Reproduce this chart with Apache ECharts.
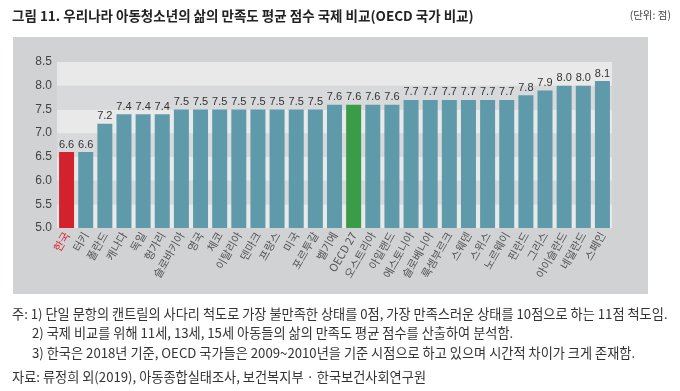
<!DOCTYPE html>
<html>
<head>
<meta charset="utf-8">
<script src="https://cdn.jsdelivr.net/npm/echarts@6/dist/echarts.min.js"></script>
<style>
html,body{margin:0;padding:0;background:#fff;}
#c{width:680px;height:391px;}
</style>
</head>
<body>
<div id="c"></div>
<script>
const categories = ['한국','터키','폴란드','캐나다','독일','헝가리','슬로바키아','영국','체코','이탈리아','덴마크','프랑스','미국','포르투갈','벨기에','OECD 27','오스트리아','아일랜드','에스토니아','슬로베니아','룩셈부르크','스웨덴','스위스','노르웨이','핀란드','그리스','아이슬란드','네덜란드','스페인'];
const values = [6.6,6.6,7.2,7.4,7.4,7.4,7.5,7.5,7.5,7.5,7.5,7.5,7.5,7.5,7.6,7.6,7.6,7.6,7.7,7.7,7.7,7.7,7.7,7.7,7.8,7.9,8.0,8.0,8.1];
const yTicks = [5.0,5.5,6.0,6.5,7.0,7.5,8.0,8.5];
const titleText = '그림 11. 우리나라 아동청소년의 삶의 만족도 평균 점수 국제 비교(OECD 국가 비교)';
const unitText = '(단위: 점)';
const notes = [
  '주: 1) 단일 문항의 캔트릴의 사다리 척도로 가장 불만족한 상태를 0점, 가장 만족스러운 상태를 10점으로 하는 11점 척도임.',
  '2) 국제 비교를 위해 11세, 13세, 15세 아동들의 삶의 만족도 평균 점수를 산출하여 분석함.',
  '3) 한국은 2018년 기준, OECD 국가들은 2009~2010년을 기준 시점으로 하고 있으며 시간적 차이가 크게 존재함.'
];
const sourceText = '자료: 류정희 외(2019), 아동종합실태조사, 보건복지부 · 한국보건사회연구원';

const highlight = {'한국':'#d3222d','OECD 27':'#3a9b48'};
const baseColor = '#5f9aab';
const F = '"Noto Sans CJK KR", "Noto Sans", sans-serif';

const chart = echarts.init(document.getElementById('c'), null, {renderer:'canvas'});
chart.setOption({
  animation:false,
  backgroundColor:'#ffffff',
  graphic:[
    {type:'rect', z:-10, shape:{x:13,y:37,width:635,height:257}, style:{fill:'#d1d2d4'}},
    {type:'text', left:12, top:9, style:{text:titleText, font:'bold 13.5px '+F, fill:'#222'}},
    {type:'text', right:9, top:10, style:{text:unitText, font:'10.5px '+F, fill:'#444'}},
    {type:'text', left:12, top:307, style:{text:notes[0], font:'13.2px '+F, fill:'#333'}},
    {type:'text', left:32, top:326, style:{text:notes[1], font:'13.2px '+F, fill:'#333'}},
    {type:'text', left:32, top:346, style:{text:notes[2], font:'13.2px '+F, fill:'#333'}},
    {type:'text', left:12, top:370, style:{text:sourceText, font:'13.2px '+F, fill:'#333'}}
  ],
  grid:{left:57, right:68, top:62, bottom:163, containLabel:false},
  xAxis:{
    type:'category', data:categories,
    axisLine:{show:false}, axisTick:{show:false},
    axisLabel:{
      rotate:60, interval:0, margin:5, fontSize:11, color:'#555', fontFamily:F,
      formatter:(v)=> v==='한국' ? '{r|'+v+'}' : v,
      rich:{r:{color:'#d3222d', fontSize:11, fontFamily:F}}
    }
  },
  yAxis:{
    type:'value', min:yTicks[0], max:yTicks[yTicks.length-1], interval:0.5,
    axisLine:{show:false}, axisTick:{show:false},
    splitLine:{show:false},
    splitArea:{show:true, areaStyle:{color:['#e9e9ea','#d8d9da']}},
    axisLabel:{fontSize:12, color:'#444', margin:5, fontFamily:'"Liberation Sans", sans-serif',
      formatter:(v)=>v.toFixed(1)}
  },
  series:[{
    type:'bar', data:values.map((v,i)=>({value:v, itemStyle:{color: highlight[categories[i]] || baseColor}})),
    barWidth:15,
    label:{show:true, position:'top', distance:2, fontSize:11, color:'#333',
      fontFamily:'"Liberation Sans", sans-serif', formatter:(p)=>p.value.toFixed(1)}
  }]
});
</script>
</body>
</html>
